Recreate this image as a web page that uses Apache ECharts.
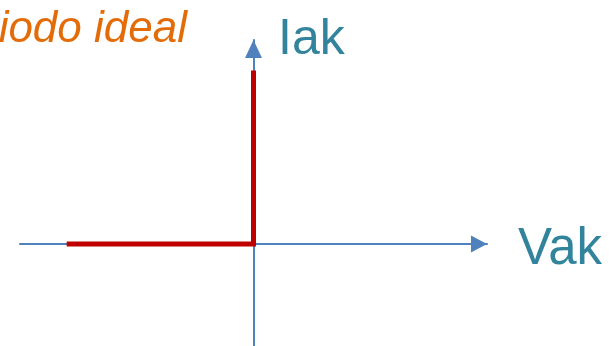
<!DOCTYPE html>
<html>
<head>
<meta charset="utf-8">
<script src="https://cdn.jsdelivr.net/npm/echarts@6/dist/echarts.min.js"></script>
<style>
  html, body { margin: 0; padding: 0; background: #fff; }
  #chart { width: 614px; height: 346px; }
</style>
</head>
<body>
<div id="chart"></div>
<script>
// curva del diodo ideal: Vak (x) vs Iak (y)
const vak = [-0.8, 0, 0];
const iak = [0, 0, 1.7];
const xRange = [-1, 1];
const yRange = [-1, 2];
const titleText = "Diodo ideal";
const xName = "Vak";
const yName = "Iak";

const chart = echarts.init(document.getElementById("chart"));

const axisBlue = "#4f81bd";
const teal = "#31849b";

chart.setOption({
  animation: false,
  grid: { left: 20, right: 127, top: 40, bottom: 0 },
  xAxis: {
    type: "value",
    min: xRange[0],
    max: xRange[1],
    axisLine: {
      onZero: true,
      symbol: ["none", "triangle"],
      symbolSize: [17, 16],
      symbolOffset: [0, -8],
      lineStyle: { color: axisBlue, width: 2 },
    },
    axisTick: { show: false },
    axisLabel: { show: false },
    splitLine: { show: false },
  },
  yAxis: {
    type: "value",
    min: yRange[0],
    max: yRange[1],
    axisLine: {
      show: true,
      onZero: true,
      symbol: ["none", "triangle"],
      symbolSize: [17, 18],
      symbolOffset: [0, -9],
      lineStyle: { color: axisBlue, width: 2 },
    },
    axisTick: { show: false },
    axisLabel: { show: false },
    splitLine: { show: false },
  },
  series: [
    {
      type: "line",
      data: vak.map((v, i) => [v, iak[i]]),
      showSymbol: false,
      lineStyle: { color: "#c00000", width: 5, join: "miter" },
      z: 3,
    },
  ],
  graphic: [
    {
      type: "text",
      x: 187,
      y: 30,
      style: {
        text: titleText,
        fill: "#e36c09",
        font: "italic 44px 'Liberation Sans', Arial, sans-serif",
        align: "right",
        verticalAlign: "middle",
      },
    },
    {
      type: "text",
      x: 278,
      y: 40,
      style: {
        text: yName,
        fill: teal,
        font: "50px 'Liberation Sans', Arial, sans-serif",
        align: "left",
        verticalAlign: "middle",
      },
    },
    {
      type: "text",
      x: 518,
      y: 250,
      style: {
        text: xName,
        fill: teal,
        font: "51px 'Liberation Sans', Arial, sans-serif",
        align: "left",
        verticalAlign: "middle",
      },
    },
  ],
});
</script>
</body>
</html>
